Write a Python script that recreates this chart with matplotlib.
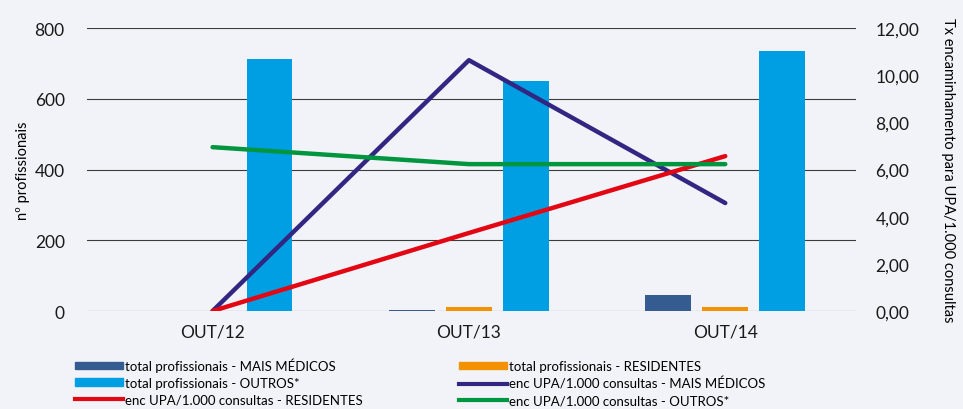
import numpy as np
import matplotlib.pyplot as plt
from matplotlib.patches import Patch
from matplotlib.lines import Line2D

plt.rcParams['font.family'] = ['Lato', 'DejaVu Sans']

# data
periods = ['OUT/12', 'OUT/13', 'OUT/14']
prof_mais_medicos = [0, 4, 45]
prof_residentes = [0, 10, 10]
prof_outros = [712, 650, 735]
enc_mais_medicos = [0.0, 10.64, 4.58]
enc_residentes = [0.0, 3.31, 6.57]
enc_outros = [6.95, 6.23, 6.23]

bg = '#f2f3f8'
c_mm = '#355c91'
c_res = '#f39200'
c_out = '#009fe3'
c_mm_line = '#312783'
c_res_line = '#e30613'
c_out_line = '#009640'

fig = plt.figure(figsize=(9.63, 4.10), dpi=100, facecolor=bg)
ax = fig.add_axes([0.0903, 0.239, 0.7986, 0.690], facecolor=bg)
ax2 = ax.twinx()

x = np.arange(len(periods))
w = 0.179
off = 0.222
ax.bar(x - off, prof_mais_medicos, w, color=c_mm, zorder=3)
ax.bar(x, prof_residentes, w, color=c_res, zorder=3)
ax.bar(x + off, prof_outros, w, color=c_out, zorder=3)

ax2.plot(x, enc_mais_medicos, color=c_mm_line, lw=3.2, solid_capstyle='round')
ax2.plot(x, enc_residentes, color=c_res_line, lw=3.2, solid_capstyle='round')
ax2.plot(x, enc_outros, color=c_out_line, lw=3.2, solid_capstyle='round')

ax.set_xlim(-0.49, 2.51)
ax.set_ylim(0, 800)
ax.set_yticks([0, 200, 400, 600, 800])
ax2.set_ylim(0, 12)
ax2.set_yticks(np.arange(0, 13, 2))
ax2.set_yticklabels([('%.2f' % v).replace('.', ',') for v in np.arange(0, 13, 2)])

ax.yaxis.grid(True, color='#3c3c3c', lw=0.8, zorder=0)
ax.set_axisbelow(True)
for a in (ax, ax2):
    for s in a.spines.values():
        s.set_visible(False)
ax.tick_params(axis='y', length=0, labelsize=12.5, pad=16, colors='#1a1a1a')
ax2.tick_params(axis='y', length=0, labelsize=12.5, pad=14, colors='#1a1a1a')
ax.set_xticks(x)
ax.set_xticklabels(periods)
ax.tick_params(axis='x', length=0, labelsize=12.5, pad=9, colors='#1a1a1a')

ax.set_ylabel('nº profissionais', fontsize=10.5, labelpad=3)
ax2.set_ylabel('Tx encaminhamento para UPA/1.000 consultas', fontsize=10.5,
               rotation=-90, labelpad=26)

handles = [
    Patch(color=c_mm), Patch(color=c_out), Line2D([], [], color=c_res_line, lw=3),
    Patch(color=c_res), Line2D([], [], color=c_mm_line, lw=3), Line2D([], [], color=c_out_line, lw=3),
]
labels = [
    'total profissionais - MAIS MÉDICOS',
    'total profissionais - OUTROS*',
    'enc UPA/1.000 consultas - RESIDENTES',
    'total profissionais - RESIDENTES',
    'enc UPA/1.000 consultas - MAIS MÉDICOS',
    'enc UPA/1.000 consultas - OUTROS*',
]
fig.legend(handles, labels, ncol=2, loc='upper left', bbox_to_anchor=(0.078, 0.125),
           frameon=False, fontsize=9.5, handlelength=3.6, handleheight=0.5,
           handletextpad=0.2, labelspacing=0.35, columnspacing=7.3, borderaxespad=0,
           borderpad=0)

fig.savefig('out.png', dpi=100, facecolor=bg)
